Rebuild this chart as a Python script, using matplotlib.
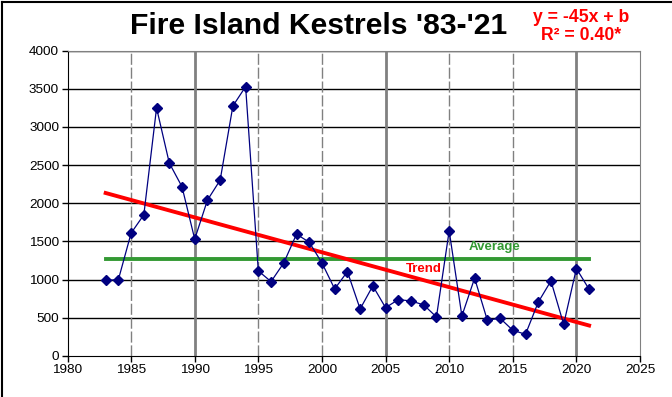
import numpy as np
import matplotlib.pyplot as plt
from matplotlib.lines import Line2D

plt.rcParams['font.family'] = ['Liberation Sans', 'DejaVu Sans']

## counts
years = list(range(1983, 2022))
counts = [990, 1000, 1609, 1849, 3248, 2527, 2216, 1530, 2041, 2303, 3274, 3527,
          1114, 974, 1219, 1595, 1490, 1219, 878, 1105, 616, 918, 633, 738, 721, 669,
          511, 1639, 524, 1019, 468, 494, 337, 284, 704, 983, 415, 1145, 874]

y_ticks = list(range(0, 4001, 500))
x_ticks = list(range(1980, 2026, 5))
thick_years = [1990, 2005, 2020]

def main():
    x = np.array(years)
    y = np.array(counts, dtype=float)
    avg = y.mean()
    slope, icpt = np.polyfit(x, y, 1)

    fig = plt.figure(figsize=(6.72, 3.97), dpi=100)
    ax = fig.add_axes([67.5/672, 1 - 356/397, (640 - 67.5)/672, (356 - 50.5)/397])

    ## grid
    for yy in y_ticks[1:]:
        ax.axhline(yy, color='black', lw=1.0, zorder=1)
    for xx in x_ticks[1:-1]:
        if xx in thick_years:
            ax.axvline(xx, color='#808080', lw=2.0, zorder=1)
        else:
            ax.axvline(xx, color='#808080', lw=1.0, ls=(0, (8, 2)), zorder=1)

    ax.plot(x, y, color='#000080', lw=0.9, marker='D', ms=5, mfc='#000080',
            mec='#000080', zorder=4)
    ax.plot([x[0], x[-1]], [avg, avg], color='#339933', lw=2.8, zorder=3)
    ax.plot([x[0], x[-1]], [slope*x[0] + icpt, slope*x[-1] + icpt],
            color='#ff0000', lw=2.8, zorder=3)

    ax.text(2011.5, 1425, 'Average', color='#339933', fontsize=9.5,
            fontweight='bold', va='center', zorder=5)
    ax.text(2006.6, 1140, 'Trend', color='#ff0000', fontsize=9.5,
            fontweight='bold', va='center', zorder=5)

    ax.set_xlim(1980, 2025)
    ax.set_ylim(0, 4000)
    ax.set_xticks(x_ticks)
    ax.set_yticks(y_ticks)
    ax.tick_params(labelsize=9.7, direction='out', length=4, width=1, color='black', pad=2)
    ax.spines['left'].set_color('black')
    ax.spines['bottom'].set_color('black')
    ax.spines['top'].set_color('#808080')
    ax.spines['right'].set_color('#808080')

    fig.text(130/672, 1 - 26.5/397, "Fire Island Kestrels '83-'21", fontsize=21.7,
             fontweight='bold', ha='left', va='center')
    fig.text(581/672, 1 - 17/397, 'y = -45x + b', fontsize=12.7, color='#ff0000',
             fontweight='bold', ha='center', va='center')
    fig.text(581/672, 1 - 35/397, 'R\u00b2 = 0.40*', fontsize=12.7, color='#ff0000',
             fontweight='bold', ha='center', va='center')

    ## chart frame (top and left edge)
    fig.add_artist(Line2D([2/672, 2/672], [0, 1 - 1.5/397], color='black', lw=1.5,
                          transform=fig.transFigure))
    fig.add_artist(Line2D([2/672, 1], [1 - 1.5/397, 1 - 1.5/397], color='black', lw=1.5,
                          transform=fig.transFigure))

    fig.savefig('out.png', dpi=100)

if __name__ == '__main__':
    main()
